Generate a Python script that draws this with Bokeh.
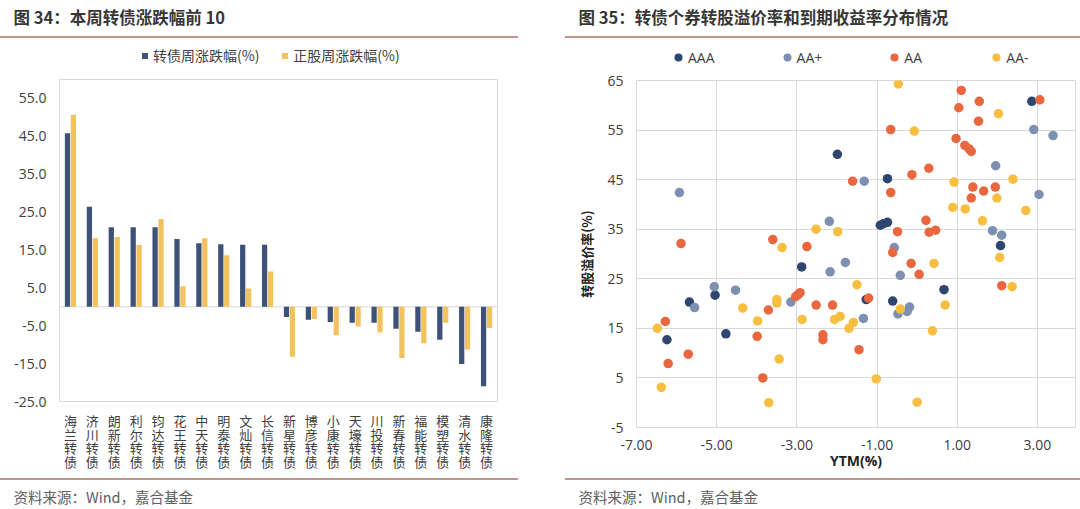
from bokeh.plotting import figure
from bokeh.models import (FactorRange, Range1d, Legend, LegendItem, Span, FixedTicker,
                          NumeralTickFormatter, ColumnDataSource, Title, Div)
from bokeh.core.properties import value
from bokeh.transform import dodge
from bokeh.layouts import column, row
from bokeh.embed import file_html
from bokeh.resources import INLINE

# ---------------- data ----------------
cats = ["海兰转债", "济川转债", "朗新转债", "利尔转债", "钧达转债", "花王转债", "中天转债",
        "明泰转债", "文灿转债", "长信转债", "新星转债", "博彦转债", "小康转债", "天壕转债",
        "川投转债", "新春转债", "福能转债", "模塑转债", "清水转债", "康隆转债"]
cb_chg = [45.8, 26.4, 21.0, 21.0, 21.0, 17.9, 16.8, 16.5, 16.4, 16.4,
          -2.7, -3.4, -4.0, -4.2, -4.2, -5.8, -6.6, -8.7, -15.1, -21.0]
stk_chg = [50.7, 18.1, 18.4, 16.3, 23.2, 5.4, 18.1, 13.6, 4.8, 9.3,
           -13.2, -3.2, -7.5, -5.2, -6.8, -13.5, -9.6, -4.2, -11.3, -5.6]
left_yticks = [-25, -15, -5, 5, 15, 25, 35, 45, 55]
bar_series = ["转债周涨跌幅(%)", "正股周涨跌幅(%)"]

aaa_x = [-1.99, -0.74, 2.86, -0.92, -0.84, -0.74, 2.08, -1.27, 0.67, -0.61, -2.88, -5.04, -5.68, -6.24, -4.77]
aaa_y = [50.1, 45.2, 60.8, 35.8, 36.1, 36.4, 31.7, 20.8, 22.8, 20.5, 27.4, 21.7, 20.3, 12.7, 13.9]

aap_x = [-1.32, -5.93, -2.19, -1.79, 2.91, 3.39, 1.96, 3.04, 1.88, 2.11, -0.57, -0.42, -0.19, -0.25,
         -0.48, -1.34, -2.17, -5.06, -4.53, -5.55, -3.15]
aap_y = [44.7, 42.4, 36.6, 28.3, 55.1, 53.9, 47.8, 42.0, 34.7, 33.8, 31.3, 25.7, 19.3, 18.4,
         17.9, 17.0, 26.4, 23.4, 22.7, 19.2, 20.3]

aa_x = [-1.61, -5.89, -3.60, -2.75, 1.10, 1.55, 3.06, 1.04, 1.53, -0.66, 0.97, 1.19, 1.30, 1.35,
        0.29, -0.13, 1.39, 1.66, 1.95, -0.66, 1.35, 0.22, -0.49, 0.30, 0.46, -0.61, -0.15, 0.05,
        2.11, -1.21, -1.45, -3.71, -3.03, -2.97, -2.92, -2.52, -2.11, -6.28, -3.99, -2.35, -2.35,
        -5.71, -6.21, -3.85]
aa_y = [44.7, 32.1, 32.9, 31.5, 63.0, 60.8, 61.1, 59.5, 56.8, 55.1, 53.3, 51.9, 51.2, 50.7,
        47.3, 46.0, 43.5, 42.7, 43.5, 42.4, 41.3, 36.8, 34.5, 34.4, 34.8, 30.3, 28.1, 25.9,
        23.6, 21.1, 10.7, 18.7, 21.4, 21.8, 22.2, 19.7, 19.7, 16.4, 13.4, 13.7, 12.7,
        9.8, 7.9, 5.0]

aam_x = [-0.47, 2.03, -0.07, 0.92, 2.39, 1.99, 0.89, 1.20, 2.71, 1.63, -2.52, -1.98, -3.37, 2.06,
         0.42, 2.37, -1.50, -0.42, 0.70, -1.59, -1.70, 0.38, -1.02, 0.00, -4.35, -3.50, -3.50,
         -2.06, -1.92, -2.87, -6.48, -3.98, -3.44, -6.38, -3.70]
aam_y = [64.3, 58.3, 54.8, 44.5, 45.1, 41.3, 39.4, 39.1, 38.8, 36.7, 35.0, 34.5, 31.3, 29.3,
         28.1, 23.4, 23.8, 18.9, 19.7, 16.2, 15.0, 14.5, 4.8, 0.1, 19.1, 20.8, 20.1,
         16.8, 17.4, 16.8, 15.0, 16.5, 8.8, 3.1, 0.0]
ratings = ["AAA", "AA+", "AA", "AA-"]

right_xticks = [-7, -5, -3, -1, 1, 3]
right_yticks = [-5, 5, 15, 25, 35, 45, 55, 65]

title_left = "图 34：本周转债涨跌幅前 10"
title_right = "图 35：转债个券转股溢价率和到期收益率分布情况"
source_text = "资料来源：Wind，嘉合基金"

# ---------------- styles ----------------
CJK = "Noto Sans CJK SC"
LAT = "Open Sans"
RULE = "#C4948F"
DARK = "#3E5279"
GOLD = "#F2C25E"
RATING_COLORS = ["#2E4670", "#7D90B2", "#E9673F", "#F7BE40"]
TXT = "#404040"
GRID = "#D9D9D9"

W = 540
L_LEFT, L_RIGHT = 59, 43     # borders of left panel figures
R_LEFT, R_RIGHT = 96, 5      # borders of right panel figures


def blank(height, lb, rb, top, bottom, xr=None, yr=None):
    f = figure(width=W, height=height, x_axis_type=None, y_axis_type=None,
               x_range=xr if xr is not None else Range1d(0, 1),
               y_range=yr if yr is not None else Range1d(0, 1),
               min_border_left=lb, min_border_right=rb, min_border_top=top,
               min_border_bottom=bottom, output_backend="svg", toolbar_location=None)
    f.outline_line_color = None
    f.grid.visible = False
    return f


def title_fig(text, lb, rb, tx):
    t = blank(36, lb, rb, 28, 0)
    t.title = Title(text=text, align="left", offset=tx - lb, standoff=0,
                    text_font=CJK, text_font_style="bold", text_font_size="16.5px",
                    text_color="#363636")
    return t


def footer_fig(lb, rb, tx):
    f = blank(29, lb, rb, 26, 0)
    f.title = Title(text=source_text, align="left", offset=tx - lb, standoff=0,
                    text_font=CJK, text_font_style="normal", text_font_size="14.5px",
                    text_color="#606060")
    return f


def rule(bg):
    return Div(text="", width=W, height=2, margin=(0, 0, 0, 0), styles={"background": bg})


# ---------------- left: bar chart ----------------
p1 = figure(width=W, height=338, x_range=FactorRange(factors=cats, range_padding=0),
            y_range=Range1d(-25, 60), min_border_left=L_LEFT, min_border_right=L_RIGHT,
            min_border_top=8, min_border_bottom=8, output_backend="svg", toolbar_location=None)
p1.outline_line_color = GRID
p1.grid.visible = False
p1.add_layout(Span(location=0, dimension="width", line_color=GRID, line_width=1, level="underlay"))

src = ColumnDataSource(dict(cat=cats, cb=cb_chg, stk=stk_chg))
bar_specs = [(-0.135, "cb", DARK), (0.135, "stk", GOLD)]
for off, col_name, colr in bar_specs:
    p1.vbar(x=dodge("cat", off, range=p1.x_range), top=col_name, width=0.24, source=src,
            fill_color=colr, line_color=None)

p1.xaxis.visible = False
p1.yaxis.ticker = FixedTicker(ticks=left_yticks)
p1.yaxis.formatter = NumeralTickFormatter(format="0.0")
p1.yaxis.axis_line_color = None
p1.yaxis.major_tick_line_color = None
p1.yaxis.minor_tick_line_color = None
p1.yaxis.major_tick_out = 0
p1.yaxis.major_tick_in = 0
p1.yaxis.major_label_text_color = TXT
p1.yaxis.major_label_text_font = LAT
p1.yaxis.major_label_text_font_size = "14px"
p1.yaxis.major_label_standoff = 13

# legend strip above the bar chart: square keys fed by the same series, scrolled out of view
lg1 = blank(33, L_LEFT, L_RIGHT, 0, 0, xr=p1.x_range, yr=Range1d(1000, 1001))
keys1 = [lg1.scatter(x=dodge("cat", off, range=p1.x_range), y=col_name, source=src,
                     marker="square", size=6, fill_color=colr, line_color=None)
         for off, col_name, colr in bar_specs]
lg1.add_layout(Legend(items=[LegendItem(label=l, renderers=[r]) for l, r in zip(bar_series, keys1)],
                      orientation="horizontal", location=(78, 6), glyph_width=15,
                      glyph_height=15, label_standoff=1, spacing=18, padding=0, margin=0,
                      border_line_color=None, background_fill_alpha=0, label_text_font=CJK,
                      label_text_font_size="14px", label_text_color=TXT, label_height=16))

# category labels: upright characters stacked vertically under each category
lab_cat, lab_row, lab_ch = [], [], []
for c in cats:
    for k, ch in enumerate(c):
        lab_cat.append(c)
        lab_row.append(k)
        lab_ch.append(ch)
lab1 = blank(69, L_LEFT, L_RIGHT, 0, 0, xr=p1.x_range, yr=Range1d(4.23, -0.80))
lab1.text(x="cat", y="row", text="ch", source=ColumnDataSource(dict(cat=lab_cat, row=lab_row, ch=lab_ch)),
          text_font=value(CJK), text_font_size="13px", text_align="center",
          text_baseline="middle", text_color=TXT)

# ---------------- right: scatter ----------------
p2 = figure(width=W, height=406, x_range=Range1d(-7, 3.95), y_range=Range1d(-5, 65),
            min_border_left=R_LEFT, min_border_right=R_RIGHT, min_border_top=8,
            min_border_bottom=51, output_backend="svg", toolbar_location=None)
p2.outline_line_color = GRID
p2.xgrid.grid_line_color = GRID
p2.ygrid.grid_line_color = GRID
p2.xaxis.ticker = FixedTicker(ticks=right_xticks)
p2.yaxis.ticker = FixedTicker(ticks=right_yticks)
p2.xaxis.formatter = NumeralTickFormatter(format="0.00")
p2.yaxis.formatter = NumeralTickFormatter(format="0")
for ax in (p2.xaxis, p2.yaxis):
    ax.axis_line_color = None
    ax.major_tick_line_color = None
    ax.minor_tick_line_color = None
    ax.major_tick_out = 0
    ax.major_tick_in = 0
    ax.major_label_text_color = TXT
    ax.major_label_text_font = LAT
    ax.major_label_text_font_size = "14px"
    ax.axis_label_text_color = "#222222"
    ax.axis_label_text_font_style = "bold"
p2.yaxis.major_label_standoff = 13
p2.xaxis.major_label_standoff = 12
p2.xaxis.axis_label = "YTM(%)"
p2.xaxis.axis_label_text_font = LAT
p2.xaxis.axis_label_text_font_size = "14px"
p2.xaxis.axis_label_standoff = -2
p2.yaxis.axis_label = "转股溢价率(%)"
p2.yaxis.axis_label_text_font = CJK
p2.yaxis.axis_label_text_font_size = "13px"
p2.yaxis.axis_label_standoff = 8

rating_srcs = [ColumnDataSource(dict(x=xs, y=ys))
               for xs, ys in zip((aaa_x, aap_x, aa_x, aam_x), (aaa_y, aap_y, aa_y, aam_y))]
for s, col in zip(rating_srcs, RATING_COLORS):
    p2.scatter("x", "y", source=s, size=9.5, fill_color=col, line_color=None)

lg2 = blank(34, R_LEFT, R_RIGHT, 0, 0, xr=p2.x_range, yr=Range1d(1000, 1001))
keys2 = [lg2.scatter("x", "y", source=s, size=9.5, fill_color=col, line_color=None)
         for s, col in zip(rating_srcs, RATING_COLORS)]
lg2.add_layout(Legend(items=[LegendItem(label=l, renderers=[r]) for l, r in zip(ratings, keys2)],
                      orientation="horizontal", location=(32, 5), glyph_width=20,
                      glyph_height=20, label_standoff=0, spacing=62, padding=0, margin=0,
                      border_line_color=None, background_fill_alpha=0, label_text_font=LAT,
                      label_text_font_size="14px", label_text_color=TXT, label_height=16))

# ---------------- assemble ----------------
t1 = title_fig(title_left, L_LEFT, L_RIGHT, 13)
f1 = footer_fig(L_LEFT, L_RIGHT, 13)
t2 = title_fig(title_right, R_LEFT, R_RIGHT, 38)
f2 = footer_fig(R_LEFT, R_RIGHT, 38)

rule_l = f"linear-gradient(to right, {RULE} 518px, #ffffff 518px)"
rule_r = f"linear-gradient(to right, #ffffff 25px, {RULE} 25px)"

left_col = column(t1, rule(rule_l), lg1, p1, lab1, rule(rule_l), f1)
right_col = column(t2, rule(rule_r), lg2, p2, rule(rule_r), f2)
layout = row(left_col, right_col)
open("out.html", "w").write(file_html(layout, INLINE, title="charts"))
